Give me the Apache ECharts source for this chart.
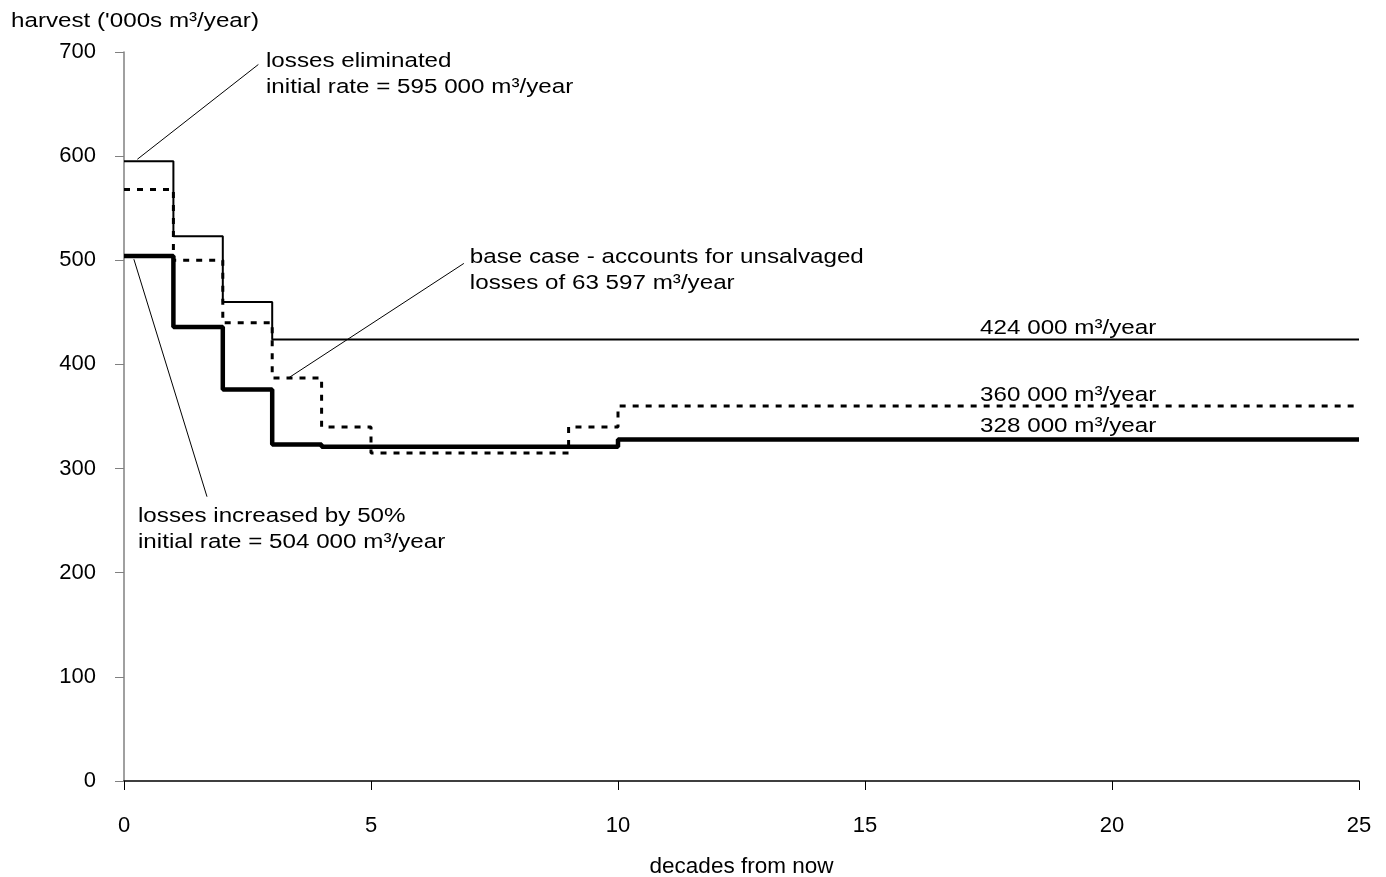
<!DOCTYPE html>
<html>
<head>
<meta charset="utf-8">
<script src="https://cdn.jsdelivr.net/npm/echarts@6/dist/echarts.min.js"></script>
<style>html,body{margin:0;padding:0;background:#fff}#c{width:1386px;height:877px}</style>
</head>
<body>
<div id="c"></div>
<script>
// decade at which each step starts, and harvest ('000s m³/year)
const eliminatedX = [0, 1, 2, 3, 25];
const eliminatedY = [595, 523, 460, 424, 424];
const baseX = [0, 1, 2, 3, 4, 5, 9, 10, 25];
const baseY = [568, 500, 440, 387, 340, 315, 340, 360, 360];
const increasedX = [0, 1, 2, 3, 4, 10, 25];
const increasedY = [504, 436, 376, 323, 321, 328, 328];
const xTicks = [0, 5, 10, 15, 20, 25];
const yTicks = [0, 100, 200, 300, 400, 500, 600, 700];

// annotations: text baseline anchor and leader line ends, in data units
const notes = [
  { lines: ['losses eliminated', 'initial rate = 595 000 m³/year'], at: [2.874, 685.3], from: [2.72, 688], to: [0.27, 597] },
  { lines: ['base case - accounts for unsalvaged', 'losses of 63 597 m³/year'], at: [7.0, 497.1], from: [6.88, 497], to: [3.33, 387] },
  { lines: ['losses increased by 50%', 'initial rate = 504 000 m³/year'], at: [0.283, 248.4], from: [1.68, 273], to: [0.2, 501] }
];
const endLabels = [
  { text: '424 000 m³/year', at: [17.33, 428.9] },
  { text: '360 000 m³/year', at: [17.33, 364.2] },
  { text: '328 000 m³/year', at: [17.33, 334.8] }
];

const FONT = "'Liberation Sans', Arial, sans-serif";
const TXT = '20.5px ' + FONT;
const SX = 1.18;
const ASC = 16.5; // baseline offset from text top
const zip = (xs, ys) => xs.map((x, i) => [x, ys[i]]);

const chart = echarts.init(document.getElementById('c'));
const option = {
  backgroundColor: '#fff',
  animation: false,
  grid: { left: 124, right: 27, top: 52, bottom: 96, containLabel: false, outerBoundsMode: 'none' },
  xAxis: {
    type: 'value', min: 0, max: 25, interval: 5,
    name: 'decades from now', nameLocation: 'middle', nameGap: 74,
    nameTextStyle: { fontFamily: FONT, fontSize: 22.5, color: '#000' },
    axisLine: { lineStyle: { color: '#000', width: 1.5 } },
    axisTick: { length: 9, lineStyle: { color: '#000' } },
    axisLabel: { margin: 34, fontFamily: FONT, fontSize: 22, color: '#000', formatter: v => xTicks.includes(v) ? String(v) : '' },
    splitLine: { show: false }
  },
  yAxis: {
    type: 'value', min: 0, max: 700, interval: 100,
    axisLine: { show: true, lineStyle: { color: '#808080', width: 1.5 } },
    axisTick: { show: true, length: 9, lineStyle: { color: '#808080' } },
    axisLabel: { margin: 28, fontFamily: FONT, fontSize: 22, color: '#000', formatter: v => yTicks.includes(v) ? String(v) : '' },
    splitLine: { show: false }
  },
  series: [
    { name: 'losses eliminated', type: 'line', step: 'end', symbol: 'none', data: zip(eliminatedX, eliminatedY),
      lineStyle: { color: '#000', width: 2 } },
    { name: 'base case', type: 'line', step: 'end', symbol: 'none', data: zip(baseX, baseY),
      lineStyle: { color: '#000', width: 3, type: [6, 7] } },
    { name: 'losses increased', type: 'line', step: 'end', symbol: 'none', data: zip(increasedX, increasedY),
      lineStyle: { color: '#000', width: 4.5 } }
  ]
};
chart.setOption(option);

function px(p) { return chart.convertToPixel({ gridIndex: 0 }, p); }
function txt(s, x, baseline) {
  return { type: 'text', x: x, y: baseline - ASC, scaleX: SX, style: { text: s, font: TXT, fill: '#000', verticalAlign: 'top', textVerticalAlign: 'top', align: 'left' } };
}
const graphics = [];
graphics.push(txt("harvest ('000s m³/year)", 11, 27.3));
notes.forEach(n => {
  const a = px(n.at), f = px(n.from), t = px(n.to);
  graphics.push({ type: 'line', shape: { x1: f[0], y1: f[1], x2: t[0], y2: t[1] }, style: { stroke: '#000', lineWidth: 1 } });
  n.lines.forEach((s, i) => graphics.push(txt(s, a[0], a[1] + i * 26.5)));
});
endLabels.forEach(l => {
  const a = px(l.at);
  graphics.push(txt(l.text, a[0], a[1]));
});
chart.setOption({ graphic: graphics });
</script>
</body>
</html>
